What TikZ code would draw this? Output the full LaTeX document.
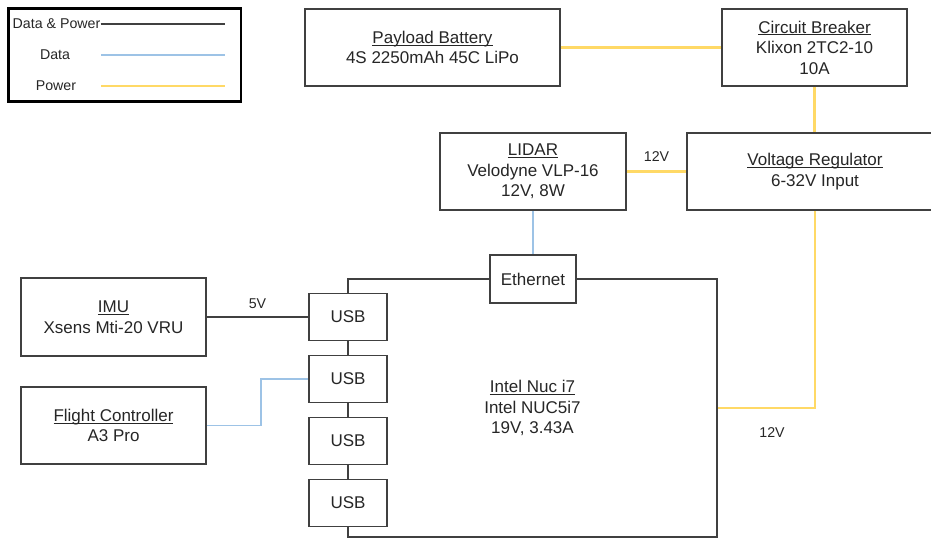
\documentclass[tikz,border=0pt]{standalone}
\usepackage{fontspec}
\setmainfont{Liberation Sans}
\definecolor{pw}{HTML}{FFD966}
\definecolor{dt}{HTML}{9DC3E6}
\definecolor{bd}{HTML}{404040}
\definecolor{tx}{HTML}{262626}
\newcommand\hdr[1]{\setbox0\hbox{#1}\rlap{\rule[-2.3pt]{\wd0}{0.9pt}}\box0}
\begin{document}
\begin{tikzpicture}[x=1pt,y=-1pt,
  box/.style={draw=bd, line width=1.6pt, fill=white, align=center, inner sep=0pt,
    font=\fontsize{17}{20.5}\selectfont, text=tx},
  usbbox/.style={box, minimum width=78pt, minimum height=47pt},
  powerline/.style={draw=pw, line width=2.2pt},
  dataline/.style={draw=dt, line width=1.8pt},
  dpline/.style={draw=bd, line width=1.6pt},
  lbl/.style={font=\fontsize{14.2}{16}\selectfont, text=tx, inner sep=0pt}]
\useasboundingbox (0,0) rectangle (931,540);
\clip (0,0) rectangle (931,540);
% legend
\draw[black, line width=2.6pt] (8.5,8.5) rectangle (241,101.5);
\node[lbl, anchor=west] (lgdp) at (12.5,24) {Data \& Power};
\node[lbl] (lgd) at (55,55) {Data};
\node[lbl] (lgp) at (56,86) {Power};
\coordinate (lgdpe) at (225,24);
\coordinate (lgds) at (101,55);
\coordinate (lgde) at (225,55);
\coordinate (lgps) at (101,86);
\coordinate (lgpe) at (225,86);
\draw[dpline] (lgdp.east) -- (lgdpe);
\draw[dataline] (lgds) -- (lgde);
\draw[powerline] (lgps) -- (lgpe);
% NUC
\node[box, minimum width=369pt, minimum height=258pt] (nuc) at (532.5,408) {\hdr{Intel Nuc i7}\\Intel NUC5i7\\19V, 3.43A};
% boxes
\node[box, minimum width=255pt, minimum height=77pt] (bat) at (432.5,47.5) {\hdr{Payload Battery}\\4S 2250mAh 45C LiPo};
\node[box, minimum width=185pt, minimum height=77pt] (cb) at (814.5,47.5) {\hdr{Circuit Breaker}\\Klixon 2TC2-10\\10A};
\node[box, minimum width=256pt, minimum height=77pt] (vr) at (815,171.5) {\hdr{Voltage Regulator}\\6-32V Input};
\node[box, minimum width=186pt, minimum height=77pt] (lidar) at (533,171.5) {\hdr{LIDAR}\\Velodyne VLP-16\\12V, 8W};
\node[box, minimum width=86pt, minimum height=48pt] (eth) at (533,279) {Ethernet};
\node[usbbox] (usb1) at (348,317) {USB};
\node[usbbox] (usb2) at (348,379) {USB};
\node[usbbox] (usb3) at (348,441) {USB};
\node[usbbox] (usb4) at (348,503) {USB};
\node[box, minimum width=185pt, minimum height=78pt] (imu) at (113.5,317) {\hdr{IMU}\\Xsens Mti-20 VRU};
\node[box, minimum width=185pt, minimum height=77pt] (fc) at (113.5,425.5) {\hdr{Flight Controller}\\A3 Pro};
% connectors
\draw[powerline] (bat.east) -- (cb.west);
\draw[powerline] (cb.south) -- (cb.south |- vr.north);
\draw[powerline] (lidar.east) -- node[lbl, above=9pt] (l12a) {12V} (vr.west);
\draw[dataline] (lidar.south) -- (eth.north);
\draw[powerline] (vr.south) |- (nuc.east);
\node[lbl] (l12b) at (772,433) {12V};
\draw[dpline] (imu.east) -- node[lbl, above=8pt] (l5) {5V} (usb1.west);
\draw[dataline] (fc.east) -- ++(54,0) |- (usb2.west);
\end{tikzpicture}
\end{document}
